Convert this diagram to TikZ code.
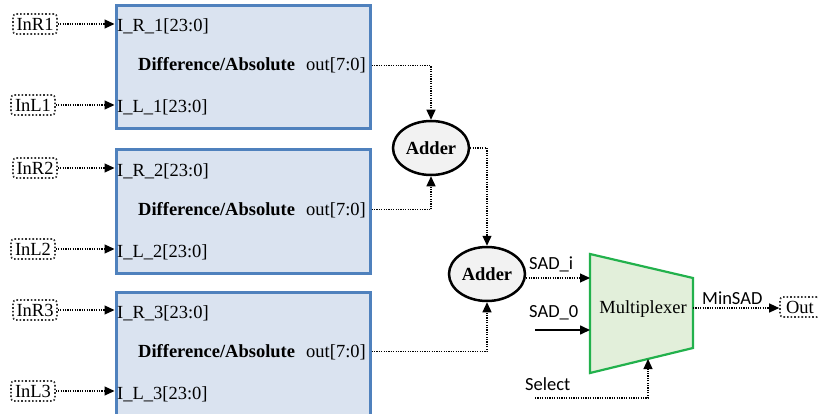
\documentclass[tikz,border=0pt]{standalone}
\usepackage{fontspec}
\setmainfont{Liberation Serif}
\newfontfamily\calfont{Carlito}
\usetikzlibrary{arrows.meta,shapes.geometric,calc}
\definecolor{blkfill}{HTML}{DAE3F0}
\definecolor{blkdraw}{HTML}{4F81BD}
\definecolor{muxfill}{HTML}{E2EFDA}
\definecolor{muxdraw}{HTML}{22B14C}
\definecolor{addfill}{HTML}{F2F2F2}
\begin{document}
\begin{tikzpicture}[x=1pt,y=-1pt,
  font=\fontsize{18.5}{21}\selectfont,
  blk/.style={draw=blkdraw,fill=blkfill,line width=3pt,minimum width=254pt,minimum height=123pt,inner sep=0pt},
  inbox/.style={draw=black!80,dotted,line width=1.6pt,rounded corners=3pt,minimum width=44pt,minimum height=20pt,inner sep=1pt},
  lbl/.style={inner sep=0pt,anchor=base west},
  dot/.style={line width=1.2pt,dash pattern=on 1.2pt off 1.2pt},
  arr/.style={-{Triangle[length=10pt,width=9pt]}},
  adder/.style={ellipse,draw,line width=2.5pt,fill=addfill,minimum width=76pt,minimum height=54pt,inner sep=0pt,font=\fontsize{18.5}{21}\selectfont\bfseries},
  sans/.style={font=\fontsize{18.5}{21}\selectfont\calfont,inner sep=0pt,anchor=base west}
]
\useasboundingbox (0,0) rectangle (818,414);
\foreach \k/\d in {1/0,2/144,3/286}{
  \node[blk] (b\k) at (243,67.5+\d) {};
  \node[lbl] (ir\k) at (117,32+\d) {I\_R\_\k[23:0]};
  \node[lbl] (il\k) at (117,113+\d) {I\_L\_\k[23:0]};
  \node[lbl,font=\fontsize{18.5}{21}\selectfont\bfseries] (df\k) at (138,71+\d) {Difference/Absolute};
  \node[inner sep=0pt,anchor=base east] (o\k) at (366,71+\d) {out[7:0]};
  \node[inbox] (inr\k) at (35,24+\d) {InR\k};
  \node[inbox] (inl\k) at (33,105+\d) {InL\k};
  \draw[dot,arr] (inr\k.east) -- (inr\k.east -| b\k.west);
  \draw[dot,arr] (inl\k.east) -- (inl\k.east -| b\k.west);
}
\node[adder] (a1) at (431,148) {Adder};
\node[adder] (a2) at (487,274) {Adder};
\draw[dot,arr] (o1.east -| b1.east) -| (a1.north);
\draw[dot,arr] (o2.east -| b2.east) -| (a1.south);
\draw[dot,arr] (a1.east) -| (a2.north);
\draw[dot,arr] (o3.east -| b3.east) -| (a2.south);
% multiplexer
\draw[draw=muxdraw,fill=muxfill,line width=2.2pt] (590,254) -- (693,278) -- (693,348) -- (590,373) -- cycle;
\node[inner sep=0pt] (mux) at (643,309) {Multiplexer};
\coordinate (m1) at (590,278);
\coordinate (m0) at (590,330);
\coordinate (ms) at (648,359);
\coordinate (mo) at (693,308);
\coordinate (s0) at (535,330);
\coordinate (sel) at (535,398);
\node[sans] (sadi) at (529,269) {SAD\_i};
\node[sans] (sad0) at (529,317) {SAD\_0};
\node[sans] (seltx) at (525,390) {Select};
\node[sans] (minsad) at (702,304) {MinSAD};
\node[inbox,minimum width=40pt] (out) at (800,307) {Out};
\draw[dot,arr] (a2.east |- m1) -- (m1);
\draw[line width=1.6pt,arr] (s0) -- (m0);
\draw[dot,arr] (sel) -| (ms);
\draw[dot,arr] (mo) -- (mo -| out.west);
\end{tikzpicture}
\end{document}
